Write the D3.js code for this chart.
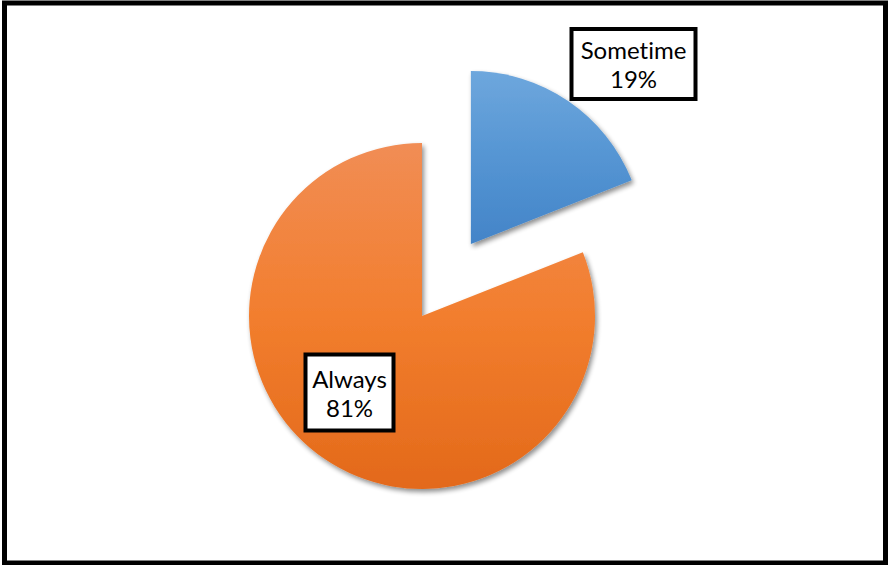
<!DOCTYPE html>
<html>
<head>
<meta charset="utf-8">
<script src="https://cdn.jsdelivr.net/npm/d3@7"></script>
<style>
  html, body { margin: 0; padding: 0; background: #fff; }
  svg { display: block; }
  text { font-variant-ligatures: none; font-feature-settings: "liga" 0, "clig" 0; }
</style>
</head>
<body>
<svg id="chart" width="888" height="565"></svg>
<script>
// Survey answer shares (percent)
const categories = ["Sometime", "Always"];
const values = [19, 81];
const labels = ["19%", "81%"];

const W = 888, H = 565;
const cx = 422, cy = 316, R = 173;
const explode = { Sometime: 87, Always: 0 };
const colorStops = {
  Sometime: ["#6ea7dd", "#5595d3", "#4384c8"],
  Always: ["#f18d55", "#f27e2e", "#e3691a"]
};
// Where each label box is centred, in chart coordinates
const labelPos = { Sometime: [633.5, 64], Always: [349.5, 392.5] };
const boxSize = { Sometime: [124, 70], Always: [88, 76] };

const svg = d3.select("#chart");
const defs = svg.append("defs");

const shadow = defs.append("filter").attr("id", "shadow")
  .attr("x", "-20%").attr("y", "-20%").attr("width", "140%").attr("height", "140%");
shadow.append("feGaussianBlur").attr("in", "SourceAlpha").attr("stdDeviation", 2.5).attr("result", "b");
shadow.append("feOffset").attr("in", "b").attr("dx", 2).attr("dy", 3).attr("result", "o");
shadow.append("feComponentTransfer").attr("in", "o").attr("result", "s")
  .append("feFuncA").attr("type", "linear").attr("slope", 0.45);
const merge = shadow.append("feMerge");
merge.append("feMergeNode").attr("in", "s");
merge.append("feMergeNode").attr("in", "SourceGraphic");

categories.forEach((c, i) => {
  const g = defs.append("linearGradient").attr("id", "grad" + i)
    .attr("x1", 0).attr("y1", 0).attr("x2", 0).attr("y2", 1);
  const st = colorStops[c];
  st.forEach((col, k) => {
    g.append("stop").attr("offset", (k / (st.length - 1) * 100) + "%").attr("stop-color", col);
  });
});

// Outer frame
svg.append("rect")
  .attr("x", 4.5).attr("y", 3).attr("width", 881).attr("height", 560)
  .attr("fill", "none").attr("stroke", "#000").attr("stroke-width", 5);

const data = categories.map((c, i) => ({ name: c, value: values[i], label: labels[i], idx: i }));
const pie = d3.pie().sort(null).value(d => d.value);
const arc = d3.arc().innerRadius(0).outerRadius(R);
const arcs = pie(data);

const slices = svg.append("g").attr("transform", `translate(${cx},${cy})`);
slices.selectAll("path").data(arcs).join("path")
  .attr("d", arc)
  .attr("fill", d => `url(#grad${d.data.idx})`)
  .attr("filter", "url(#shadow)")
  .attr("transform", d => {
    const mid = (d.startAngle + d.endAngle) / 2;
    const e = explode[d.data.name];
    return `translate(${e * Math.sin(mid)},${-e * Math.cos(mid)})`;
  });

// Data labels
const lab = svg.append("g").selectAll("g").data(arcs).join("g")
  .attr("transform", d => `translate(${labelPos[d.data.name][0]},${labelPos[d.data.name][1]})`);
lab.append("rect")
  .attr("x", d => -boxSize[d.data.name][0] / 2)
  .attr("y", d => -boxSize[d.data.name][1] / 2)
  .attr("width", d => boxSize[d.data.name][0])
  .attr("height", d => boxSize[d.data.name][1])
  .attr("fill", "#fff").attr("stroke", "#000").attr("stroke-width", 4);
const txt = lab.append("text")
  .attr("text-anchor", "middle")
  .attr("font-family", "Lato, 'Open Sans', sans-serif")
  .attr("font-size", 24)
  .attr("fill", "#000");
txt.append("tspan").attr("x", 0).attr("y", -5).text(d => d.data.name);
txt.append("tspan").attr("x", 0).attr("y", 24).text(d => d.data.label);
</script>
</body>
</html>
